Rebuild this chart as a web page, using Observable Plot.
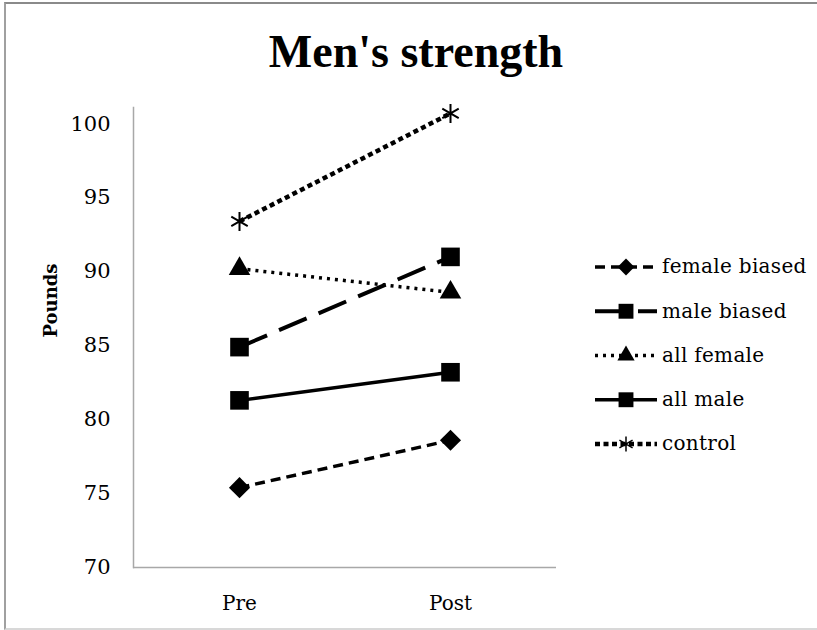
<!DOCTYPE html>
<html>
<head>
<meta charset="utf-8">
<script src="https://cdn.jsdelivr.net/npm/d3@7"></script>
<script src="https://cdn.jsdelivr.net/npm/@observablehq/plot@0.6"></script>
<style>
  html, body { margin: 0; padding: 0; background: #fff; }
  #wrap { position: relative; width: 817px; height: 630px; overflow: hidden; background: #fff; }
  #edge { position: absolute; left: 4px; top: 2px; width: 830px; height: 624px;
          border-top: 2px solid #8a8a8a; border-left: 2px solid #a0a0a0; border-bottom: 2px solid #d8d8d8; }
  #title { position: absolute; left: 0; top: 10px; width: 832px; height: 80px; text-align: center;
           font-family: "Liberation Serif", serif; font-weight: bold; font-size: 46px; line-height: 84px; color: #000; }
  #chart { position: absolute; left: 0; top: 90px; }
  #legend { position: absolute; left: 0; top: 0; }
</style>
</head>
<body>
<div id="wrap">
  <div id="edge"></div>
  <div id="title">Men's strength</div>
  <div id="chart"></div>
  <svg id="legend" width="817" height="630"></svg>
</div>
<script>
// Measurement occasions and groups
const phases = ["Pre", "Post"];
const groups = ["female biased", "male biased", "all female", "all male", "control"];

// Mean strength (pounds) per group, Pre then Post
const femaleBiased = [75.4, 78.6];
const maleBiased = [84.9, 91.0];
const allFemale = [90.2, 88.6];
const allMale = [81.3, 83.2];
const control = [93.4, 100.7];

const yTicks = [70, 75, 80, 85, 90, 95, 100];

const seriesValues = [femaleBiased, maleBiased, allFemale, allMale, control];

// Line and marker styling per group
const styles = {
  "female biased": {dash: "10,6", width: 3.5, symbol: "diamond2", r: 9.5, filled: true},
  "male biased":   {dash: "30,13", width: 4, symbol: "square", r: 10.5, filled: true},
  "all female":    {dash: "3,5", width: 3.5, symbol: "triangle", r: 8, filled: true},
  "all male":      {dash: null, width: 3.5, symbol: "square", r: 10.5, filled: true},
  "control":       {dash: "5,3.5", width: 4.5, symbol: "asterisk", r: 9, filled: false}
};

const rows = groups.flatMap((g, i) =>
  phases.map((p, j) => ({group: g, phase: p, value: seriesValues[i][j]}))
);

const marks = [
  Plot.ruleY([70], {stroke: "#a8a8a8", strokeWidth: 1.5}),
  Plot.frame({anchor: "left", stroke: "#a8a8a8", strokeWidth: 1.5}),
  Plot.axisY({ticks: yTicks, tickSize: 0, tickPadding: 23, label: null, fontSize: 21}),
  Plot.axisX({tickSize: 0, tickPadding: 28, label: null, fontSize: 20}),
  Plot.text(["Pounds"], {frameAnchor: "left", rotate: -90, dx: -82, fontWeight: "bold", fontSize: 18})
];

for (const g of groups) {
  const s = styles[g];
  const data = rows.filter(d => d.group === g);
  marks.push(Plot.line(data, {
    x: "phase", y: "value", stroke: "black", strokeWidth: s.width,
    strokeDasharray: s.dash || undefined, strokeLinecap: "butt"
  }));
}
for (const g of groups) {
  const s = styles[g];
  const data = rows.filter(d => d.group === g);
  marks.push(Plot.dot(data, {
    x: "phase", y: "value", symbol: s.symbol, r: s.r,
    fill: s.filled ? "black" : "none", stroke: "black", strokeWidth: s.filled ? 0 : 2
  }));
}

const chart = Plot.plot({
  width: 817,
  height: 540,
  marginTop: 17,
  marginBottom: 63,
  marginLeft: 133,
  marginRight: 261,
  style: {fontFamily: "DejaVu Serif", fontSize: "20px", color: "#000", background: "transparent"},
  x: {type: "point", domain: phases, padding: 0.5, label: null},
  y: {domain: [70, 101.1], label: null},
  marks
});
document.getElementById("chart").appendChild(chart);

// Legend: line sample with marker and group name
const symbolTypes = {
  diamond2: d3.symbolDiamond2, square: d3.symbolSquare,
  triangle: d3.symbolTriangle, asterisk: d3.symbolAsterisk
};
const legend = d3.select("#legend");
const legendRowY = d3.scalePoint().domain(groups).range([267, 444]);
groups.forEach(g => {
  const s = styles[g];
  const y = legendRowY(g);
  const item = legend.append("g");
  item.append("line")
    .attr("x1", 595).attr("x2", 657).attr("y1", y).attr("y2", y)
    .attr("stroke", "black").attr("stroke-width", s.width)
    .attr("stroke-dasharray", s.dash ? s.dash : null);
  const rr = s.r * 0.8;
  item.append("path")
    .attr("transform", `translate(626,${y})`)
    .attr("d", d3.symbol(symbolTypes[s.symbol], Math.PI * rr * rr)())
    .attr("fill", s.filled ? "black" : "white")
    .attr("stroke", s.filled ? "none" : "black")
    .attr("stroke-width", 1.5);
  item.append("text")
    .attr("x", 662).attr("y", y).attr("dy", "0.32em")
    .attr("font-family", "DejaVu Serif").attr("font-size", 20)
    .attr("letter-spacing", "0.3px")
    .text(g);
});
</script>
</body>
</html>
